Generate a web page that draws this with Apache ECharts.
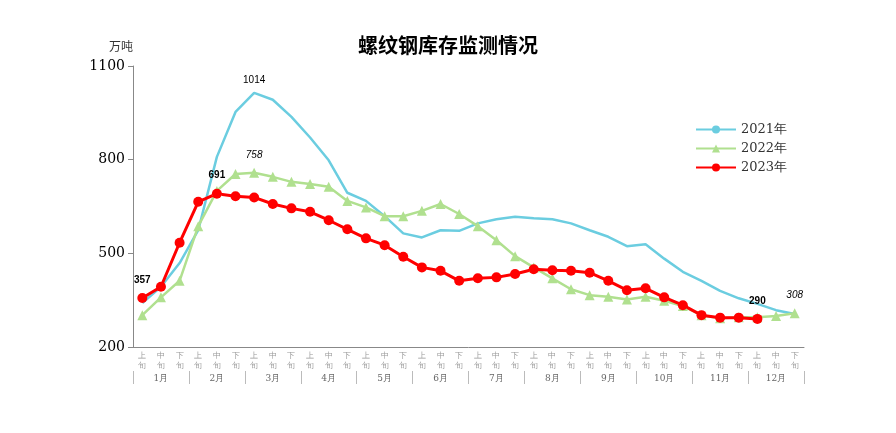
<!DOCTYPE html>
<html style="height: 100%">
<head>
<meta charset="utf-8">
<script src="https://cdn.jsdelivr.net/npm/echarts@6/dist/echarts.min.js"></script>
</head>
<body style="height: 100%; margin: 0; background: #fff">
<div id="container" style="height: 100%"></div>
<script type="text/javascript">
var months = ['1月','2月','3月','4月','5月','6月','7月','8月','9月','10月','11月','12月'];
var xuns = ['上旬','中旬','下旬'];
var y2021 = [341,393,469,574,809,953,1014,992,937,871,798,694,668,619,564,551,574,572,596,609,617,612,609,596,574,553,523,529,483,441,412,380,356,338,318,306];
var y2022 = [302,359,412,587,700,754,758,745,729,722,713,668,647,619,619,636,658,626,587,542,491,455,420,385,366,361,352,361,348,331,302,292,295,295,299,308];
var y2023 = [357,393,534,665,691,683,679,658,644,633,606,577,548,526,489,455,444,412,420,423,434,449,446,444,438,412,382,388,359,334,302,294,294,290];
var labelIdx2021 = [6], labelIdx2022 = [6, 35], labelIdx2023 = [0, 4, 33];

var cats = [];
months.forEach(function (m) { xuns.forEach(function (x) { cats.push(m + x); }); });

function withLabels(arr, idx, style) {
  return arr.map(function (v, i) {
    if (idx.indexOf(i) < 0) return v;
    return { value: v, label: Object.assign({ show: true, position: 'top', distance: 8, color: '#000', fontSize: 10, fontFamily: 'Arial' }, style) };
  });
}

var dom = document.getElementById("container");
var myChart = echarts.init(dom);
var option = {
  title: {
    text: '螺纹钢库存监测情况',
    left: 'center', top: 30,
    textStyle: { fontSize: 20, fontWeight: 'bold', fontFamily: 'Noto Sans CJK SC', color: '#000' }
  },
  legend: {
    orient: 'vertical', left: 690, top: 118, itemGap: 6, itemWidth: 40, itemHeight: 10,
    textStyle: { fontFamily: 'DejaVu Serif', fontSize: 13, color: '#333' },
    data: ['2021年', '2022年', '2023年']
  },
  grid: { left: 133, right: 92, top: 66, bottom: 86 },
  xAxis: [{
    type: 'category', data: cats,
    axisLine: { lineStyle: { color: '#888' } },
    axisTick: { interval: 0, length: 24, lineStyle: { color: '#bbb' } },
    axisLabel: { interval: 0, margin: 4, fontSize: 8, lineHeight: 10, color: '#999',
      formatter: function (v) { return v.slice(-2, -1) + '\n' + v.slice(-1); } }
  }, {
    type: 'category', data: months, position: 'bottom', offset: 24,
    axisLine: { show: true, lineStyle: { color: 'rgba(0,0,0,0)' } },
    axisTick: { show: true, length: 13, lineStyle: { color: '#bbb' } },
    axisLabel: { margin: 3, fontSize: 9, color: '#666', fontFamily: 'DejaVu Serif' }
  }],
  yAxis: {
    type: 'value', min: 200, max: 1100, interval: 300,
    name: '万吨', nameGap: 14, nameTextStyle: { align: 'right', color: '#333', fontFamily: 'Noto Sans CJK SC', fontSize: 12 },
    axisLine: { show: true, lineStyle: { color: '#888' } },
    axisTick: { show: true, lineStyle: { color: '#888' } },
    splitLine: { show: false },
    axisLabel: { color: '#000', fontSize: 14, fontFamily: 'DejaVu Serif', formatter: function (v) { return String(v); } }
  },
  series: [{
    name: '2021年', type: 'line', symbol: 'circle', symbolSize: 0.1, color: '#6bcde0',
    lineStyle: { width: 2.5 },
    data: withLabels(y2021, labelIdx2021, {})
  }, {
    name: '2022年', type: 'line', symbol: 'triangle', symbolSize: 10, color: '#b0e08f',
    lineStyle: { width: 2.5 },
    data: withLabels(y2022, labelIdx2022, { fontStyle: 'italic' })
  }, {
    name: '2023年', type: 'line', symbol: 'circle', symbolSize: 10, color: '#ff0000',
    lineStyle: { width: 3 },
    data: withLabels(y2023, labelIdx2023, { fontWeight: 'bold' })
  }]
};
myChart.setOption(option, true);
</script>
</body>
</html>
